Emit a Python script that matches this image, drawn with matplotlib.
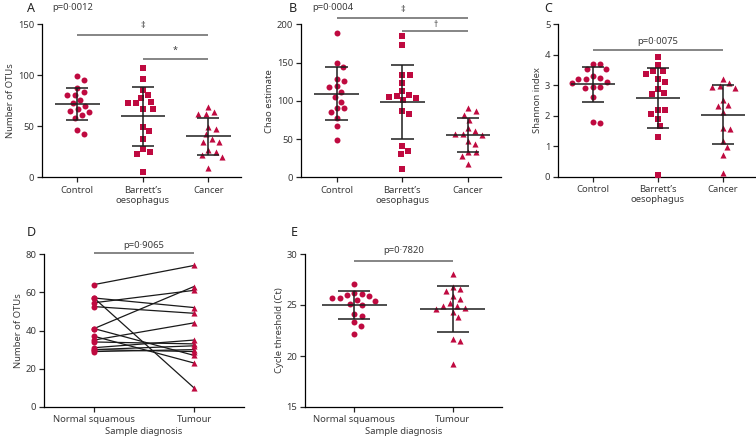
import numpy as np
import matplotlib
matplotlib.use("Agg")
import matplotlib.pyplot as plt

# ---- data ----
groups = ["Control", "Barrett\u2019s\noesophagus", "Cancer"]
pair_groups = ["Normal squamous", "Tumour"]

otus_control = [99, 95, 88, 81, 81, 84, 76, 70, 73, 67, 64, 65, 61, 58, 46, 42]
otus_barrett = [107, 96, 86, 81, 74, 73, 73, 78, 67, 67, 49, 45, 38, 25, 23, 28, 5]
otus_cancer = [69, 64, 62, 62, 49, 47, 42, 38, 35, 35, 26.5, 21.6, 19.6, 24.5, 9]

chao_control = [189, 150, 144, 126, 129, 118, 119, 111, 105, 99, 91, 90, 85, 77, 67, 49]
chao_barrett = [185, 173, 134, 134, 123, 113, 106, 104, 101, 105, 108, 83, 87, 35, 31, 41, 11]
chao_cancer = [87, 90, 82, 75, 57, 64, 60, 57, 55, 47, 43, 33, 33, 28, 17]

shannon_control = [3.69, 3.70, 3.52, 3.53, 3.31, 3.21, 3.21, 3.23, 3.10, 3.07, 2.92, 2.95, 2.93, 2.62, 1.77, 1.79]
shannon_barrett = [3.94, 3.66, 3.46, 3.48, 3.37, 3.19, 3.09, 2.89, 2.72, 2.75, 2.17, 2.19, 2.06, 1.90, 1.66, 1.29, 0.04]
shannon_cancer = [3.20, 2.97, 2.90, 2.95, 3.07, 2.51, 2.34, 2.31, 2.12, 1.60, 1.57, 1.18, 0.98, 0.71, 0.13]

paired_normal = [64, 57, 57, 54.5, 52.5, 41, 41, 37, 35, 34, 31, 30, 30, 29]
paired_tumour = [74, 10, 52, 61, 49, 63, 27, 23, 44, 33, 35, 32, 29, 30]

ct_normal = [27.1, 26.2, 26.1, 25.9, 25.7, 26.0, 25.7, 25.5, 25.4, 25.0, 25.1, 23.9, 24.1, 23.3, 22.9, 22.2]
ct_tumour = [28.0, 26.6, 26.4, 26.8, 25.9, 25.6, 25.2, 24.9, 24.9, 24.6, 24.7, 24.3, 23.8, 21.7, 21.5, 19.2]

RED = "#BF0A40"
GREY_LINE = "#858585"
TXT = "#3a3a3a"
MSIZE = {"o": 4.3, "s": 4.0, "^": 4.4}

plt.rcParams.update({
    "font.family": ["Noto Sans", "DejaVu Sans"],
    "font.size": 6.8,
    "axes.linewidth": 0.9,
    "xtick.major.width": 0.9,
    "ytick.major.width": 0.9,
    "xtick.major.size": 3.5,
    "ytick.major.size": 3.5,
    "xtick.major.pad": 2.5,
    "ytick.major.pad": 2,
    "xtick.color": "#222222",
    "ytick.color": "#222222",
    "xtick.labelcolor": TXT,
    "ytick.labelcolor": TXT,
    "axes.labelcolor": TXT,
    "text.color": TXT,
})


def style(ax, ylim, yticks, xlim, ylabel):
    for side in ["top", "right"]:
        ax.spines[side].set_visible(False)
    ax.set_ylim(*ylim)
    ax.set_yticks(yticks)
    ax.set_xlim(*xlim)
    ax.set_ylabel(ylabel, labelpad=2)


def beeswarm(ax, pos, vals, dmin=7.5):
    # spread points sideways (in pixels) so that none overlap, like a dot plot
    pix = ax.transData.transform(np.column_stack([np.full(len(vals), pos), vals]))
    ys = pix[:, 1]
    order = np.argsort(-ys)
    cands = np.arange(0, 60, 0.5)
    cands = np.concatenate([[0], np.ravel(np.column_stack([cands[1:], -cands[1:]]))])
    placed = []
    offs = np.zeros(len(vals))
    for i in order:
        for c in cands:
            if all((c - px) ** 2 + (ys[i] - py) ** 2 >= dmin ** 2 for px, py in placed):
                offs[i] = c
                placed.append((c, ys[i]))
                break
    xpix = pix[:, 0] + offs
    return ax.transData.inverted().transform(np.column_stack([xpix, pix[:, 1]]))[:, 0]


def mean_sd(ax, pos, vals, half=0.34, cap=0.17):
    m = np.mean(vals)
    s = np.std(vals, ddof=1)
    kw = dict(color="#1e1e1e", lw=1.1, zorder=5, solid_capstyle="butt")
    ax.plot([pos - half, pos + half], [m, m], **kw)
    ax.plot([pos, pos], [m - s, m + s], **kw)
    ax.plot([pos - cap, pos + cap], [m + s, m + s], **kw)
    ax.plot([pos - cap, pos + cap], [m - s, m - s], **kw)


def sig(ax, x0, x1, y, label=None, ty=None, size=6.8):
    ax.plot([x0, x1], [y, y], color=GREY_LINE, lw=1.4, clip_on=False, solid_capstyle="butt")
    if label:
        ax.text((x0 + x1) / 2, ty, label, ha="center", va="center", fontsize=size, clip_on=False)


def dot_panel(ax, cats, series, markers, half=0.34, cap=0.17):
    for i, (vals, mk) in enumerate(zip(series, markers)):
        xs = beeswarm(ax, i, vals)
        ax.scatter(xs, vals, marker=mk, s=MSIZE[mk] ** 2, color=RED, linewidths=0, zorder=3)
        mean_sd(ax, i, vals, half, cap)
    ax.set_xticks(range(len(cats)))
    ax.set_xticklabels(cats)


fig = plt.figure(figsize=(7.56, 4.41), dpi=100)
W, H = 756, 441


def add_axes(x0, x1, ytop, ybot):
    return fig.add_axes([x0 / W, 1 - ybot / H, (x1 - x0) / W, (ybot - ytop) / H])


axA = add_axes(42, 241, 24.3, 177.3)
axB = add_axes(301, 501, 24.3, 177.3)
axC = add_axes(558, 755, 24.3, 176.5)
axD = add_axes(44, 244, 254, 407)
axE = add_axes(305, 502, 254, 407)

xl3 = (-0.54, 2.5)
tri = ["o", "s", "^"]

# A
style(axA, (0, 150), [0, 50, 100, 150], xl3, "Number of OTUs")
dot_panel(axA, groups, [otus_control, otus_barrett, otus_cancer], tri)
sig(axA, 0, 2, 140, "\u2021", 149, 6.5)
sig(axA, 1, 2, 116, "*", 124, 6.5)

# B
style(axB, (0, 200), [0, 50, 100, 150, 200], xl3, "Chao estimate")
dot_panel(axB, groups, [chao_control, chao_barrett, chao_cancer], tri)
sig(axB, 0, 2, 208, "\u2021", 219, 6.5)
sig(axB, 1, 2, 191, "\u2020", 200, 6)

# C
style(axC, (0, 5), [0, 1, 2, 3, 4, 5], xl3, "Shannon index")
dot_panel(axC, groups, [shannon_control, shannon_barrett, shannon_cancer], tri)
sig(axC, 0, 2, 4.16, "p=0\u00b70075", 4.42)

# D paired lines
for a, b in zip(paired_normal, paired_tumour):
    axD.plot([0, 1], [a, b], color="#1a1a1a", lw=0.9, zorder=2)
axD.scatter(np.zeros(len(paired_normal)), paired_normal, marker="o", s=MSIZE["o"] ** 2, color=RED, zorder=3, linewidths=0)
axD.scatter(np.ones(len(paired_tumour)), paired_tumour, marker="^", s=MSIZE["^"] ** 2, color=RED, zorder=3, linewidths=0)
axD.set_xticks([0, 1])
axD.set_xticklabels(pair_groups)
style(axD, (0, 80), [0, 20, 40, 60, 80], (-0.5, 1.5), "Number of OTUs")
axD.set_xlabel("Sample diagnosis", labelpad=2)
sig(axD, 0, 1, 80.3, "p=0\u00b79065", 84.5)

# E
style(axE, (15, 30), [15, 20, 25, 30], (-0.5, 1.5), "Cycle threshold (Ct)")
dot_panel(axE, pair_groups, [ct_normal, ct_tumour], ["o", "^"], 0.33, 0.16)
axE.set_xlabel("Sample diagnosis", labelpad=2)
sig(axE, 0, 1, 29.35, "p=0\u00b77820", 30.3)

# panel letters and p-values
letters = [("A", 27, 9), ("B", 289, 9), ("C", 544, 9), ("D", 27, 233), ("E", 291, 233)]
for lab, x, y in letters:
    fig.text(x / W, 1 - y / H, lab, fontsize=9, fontweight="bold", color="#222222", va="center", ha="left")
fig.text(52 / W, 1 - 8 / H, "p=0\u00b70012", va="center", ha="left")
fig.text(312 / W, 1 - 8 / H, "p=0\u00b70004", va="center", ha="left")

fig.savefig("out.png", dpi=100)
